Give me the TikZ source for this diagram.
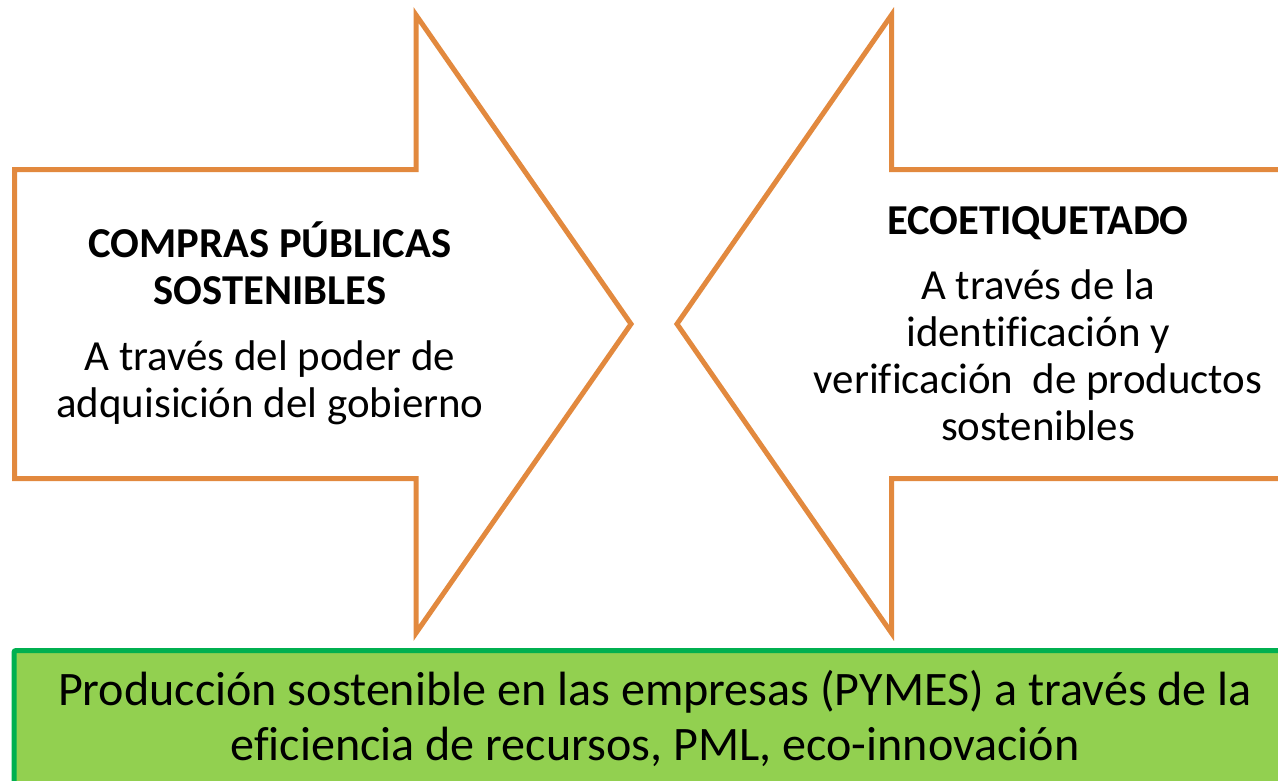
\documentclass[tikz,border=0pt]{standalone}
\usepackage{fontspec}
\setmainfont{Carlito}[Ligatures={NoCommon}]
\definecolor{arroworange}{RGB}{226,137,62}
\definecolor{boxgreen}{RGB}{0,176,80}
\definecolor{boxfill}{RGB}{146,208,80}
\tikzset{
  arrowshape/.style={draw=arroworange, line width=5pt, fill=white, line join=miter},
  greenbox/.style={draw=boxgreen, line width=5pt, fill=boxfill},
  titletext/.style={font=\fontsize{42.6}{47}\selectfont\bfseries, align=center, anchor=base, inner sep=0pt},
  bodytext/.style={font=\fontsize{42.9}{46.7}\selectfont, align=center, anchor=base, inner sep=0pt},
  bottomtext/.style={font=\fontsize{48.1}{55}\selectfont, align=center, anchor=base, inner sep=0pt}
}
\begin{document}
\begin{tikzpicture}[x=1pt,y=-1pt]
\useasboundingbox (0,0) rectangle (1278,780);
\clip (0,0) rectangle (1278,780);
% left arrow
\draw[arrowshape] (14.5,169.5) -- (416,169.5) -- (416,15) -- (631,324) -- (416,633) -- (416,478.5) -- (14.5,478.5) -- cycle;
% right arrow
\draw[arrowshape] (1300,169.5) -- (891.5,169.5) -- (891.5,15) -- (677,324) -- (891.5,633) -- (891.5,478.5) -- (1300,478.5) -- cycle;
% green box
\draw[greenbox, rounded corners=2pt] (14,650.5) rectangle (1300,800);
% texts (base anchor = baseline of the last line)
\node[titletext] (t1) at (270,304) {COMPRAS PÚBLICAS\\SOSTENIBLES};
\node[bodytext] (b1) at (270,417) {A través del poder de\\adquisición del gobierno};
\node[titletext] (t2) at (1038,234) {ECOETIQUETADO};
\node[bodytext] (b2) at (1038,440) {A través de la\\identificación y\\verificación\ \ de productos\\sostenibles};
\node[bottomtext] (b3) at (655,760) {Producción sostenible en las empresas (PYMES) a través de la\\eficiencia de recursos, PML, eco-innovación};
\end{tikzpicture}
\end{document}
